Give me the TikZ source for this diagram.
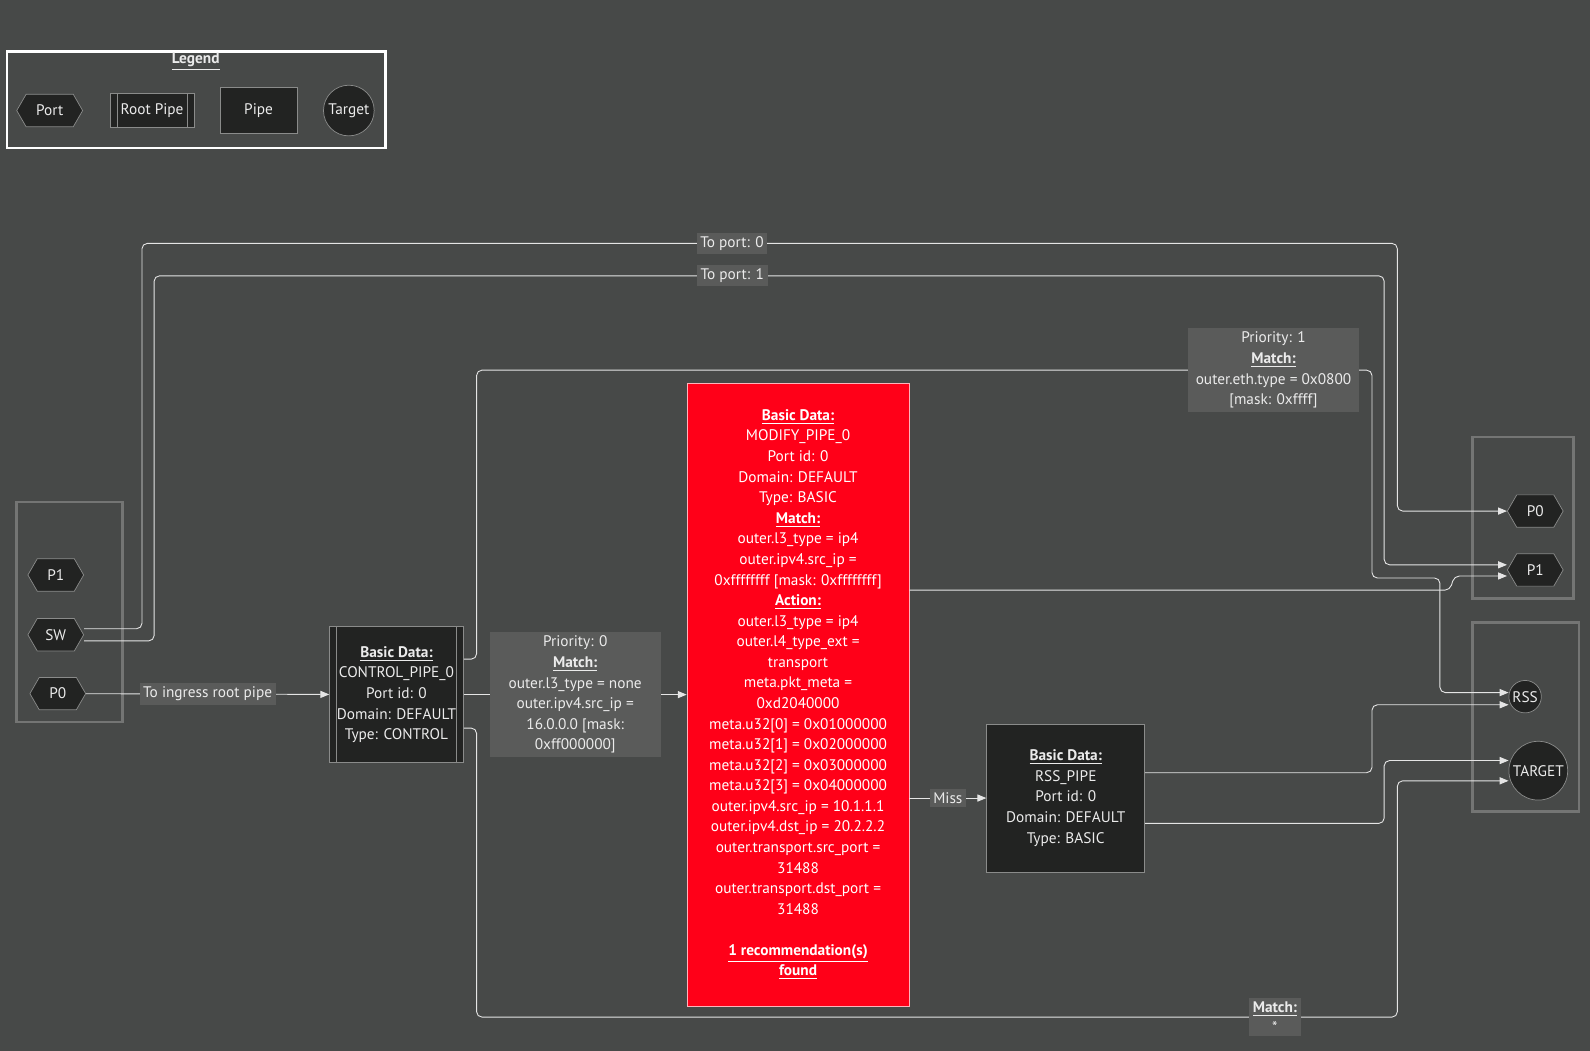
\documentclass[tikz,border=0pt]{standalone}
\usepackage{fontspec}
\setmainfont{PT Sans}
\usetikzlibrary{shapes.symbols,arrows.meta}
\definecolor{bg}{HTML}{474948}
\definecolor{nodefill}{HTML}{222322}
\definecolor{lblfill}{HTML}{5A5B5A}
\definecolor{boxline}{HTML}{8A8B8A}
\definecolor{alarm}{HTML}{FF0018}
\newcommand{\hd}[1]{\underline{\textbf{#1}}}

\begin{document}
\begin{tikzpicture}[
  x=0.02cm,y=-0.02cm,
  font=\fontsize{8.6}{11.55}\selectfont,
  every node/.style={align=center,text=white!92!black},
  port/.style={draw=boxline,fill=nodefill,signal,signal to=west and east,signal pointer angle=120,minimum width=1.1cm,minimum height=0.64cm,inner sep=1pt},
  pipe/.style={draw=boxline,fill=nodefill,rectangle},
  rootpipe/.style={pipe,path picture={
      \draw[boxline] ([xshift=4pt]path picture bounding box.north west) -- ([xshift=4pt]path picture bounding box.south west);
      \draw[boxline] ([xshift=-4pt]path picture bounding box.north east) -- ([xshift=-4pt]path picture bounding box.south east);}},
  target/.style={draw=boxline,fill=nodefill,circle,inner sep=1pt},
  group/.style={draw=gray!80!bg,line width=1.5pt},
  lbl/.style={fill=lblfill,inner sep=2pt,sharp corners},
  to/.style={-{Triangle[length=5pt,width=4pt]},draw=white!90!black,rounded corners=3pt,line width=0.5pt}]

  % background
  \fill[bg] (0,0) rectangle (1568,1036);

  % legend
  \draw[white,line width=1.5pt] (7,51) rectangle (380,146);
  \node (legend) at (193,61) {\hd{Legend}};
  \node[port,minimum width=1.3cm] (lg_port) at (49,109) {Port};
  \node[rootpipe,minimum width=1.66cm,minimum height=0.66cm] (lg_root) at (150,109) {Root Pipe};
  \node[pipe,minimum width=1.52cm,minimum height=0.9cm] (lg_pipe) at (255,109) {Pipe};
  \node[target,minimum size=1cm] (lg_target) at (344,109) {Target};

  % port groups
  \draw[group] (16,495) rectangle (121,712);
  \draw[group] (1452,431) rectangle (1552,590);
  \draw[group] (1452,614) rectangle (1557,800);

  \node[port] (in_p1) at (55,567) {P1};
  \node[port] (in_sw) at (55,626) {SW};
  \node[port] (in_p0) at (57,684) {P0};
  \node[port] (out_p0) at (1514,504) {P0};
  \node[port] (out_p1) at (1514,562) {P1};
  \node[target,minimum size=0.64cm] (rss) at (1504,687) {RSS};
  \node[target,minimum size=1.16cm] (tgt) at (1517,760) {TARGET};

  % pipes
  \node[rootpipe,minimum width=2.64cm,minimum height=2.68cm] (control) at (391,685)
    {\hd{Basic Data:}\\CONTROL\_PIPE\_0\\Port id: 0\\Domain: DEFAULT\\Type: CONTROL};
  \node[pipe,fill=alarm,draw=white!70!alarm,minimum width=4.38cm,minimum height=12.28cm,text=white] (modify) at (787,685)
    {\hd{Basic Data:}\\MODIFY\_PIPE\_0\\Port id: 0\\Domain: DEFAULT\\Type: BASIC\\
     \hd{Match:}\\outer.l3\_type = ip4\\outer.ipv4.src\_ip =\\0xffffffff {[mask: 0xffffffff]}\\
     \hd{Action:}\\outer.l3\_type = ip4\\outer.l4\_type\_ext =\\transport\\meta.pkt\_meta =\\0xd2040000\\
     meta.u32{[0]} = 0x01000000\\meta.u32{[1]} = 0x02000000\\meta.u32{[2]} = 0x03000000\\meta.u32{[3]} = 0x04000000\\
     outer.ipv4.src\_ip = 10.1.1.1\\outer.ipv4.dst\_ip = 20.2.2.2\\outer.transport.src\_port =\\31488\\
     outer.transport.dst\_port =\\31488\\[11.55pt]\hd{1 recommendation(s)}\\\hd{found}};
  \node[pipe,minimum width=3.12cm,minimum height=2.92cm] (rss_pipe) at (1051,787)
    {\hd{Basic Data:}\\RSS\_PIPE\\Port id: 0\\Domain: DEFAULT\\Type: BASIC};

  % connectors
  \draw[to] (in_p0) -- node[lbl] {To ingress root pipe} (control);
  \draw[to] (in_sw.east|-0,620) -- (140,620) -- (140,240)
    -- node[lbl,pos=0.47] {To port: 0} (1378,240) -- (1378,504) -- (out_p0);
  \draw[to] (in_sw.east|-0,632) -- (152,632) -- (152,272)
    -- node[lbl,pos=0.47] {To port: 1} (1365,272) -- (1365,557) -- (out_p1.west|-0,557);
  \draw[to] (control.east) -- node[lbl,minimum width=3.38cm,minimum height=2.42cm] {Priority: 0\\\hd{Match:}\\outer.l3\_type = none\\outer.ipv4.src\_ip =\\16.0.0.0 {[mask:}\\0xff000000{]}} (modify);
  \draw[to] (control.east|-0,650) -- (470,650) -- (470,365)
    -- node[lbl,pos=0.89,minimum width=3.38cm,minimum height=1.62cm] {Priority: 1\\\hd{Match:}\\outer.eth.type = 0x0800\\{[mask: 0xffff]}} (1353,365)
    -- (1353,570) -- (1420,570) -- (1420,683) -- (rss.west|-0,683);
  \draw[to] (modify.east|-0,582) -- (1430,582) -- (1434,568) -- (out_p1.west|-0,568);
  \draw[to] (modify.east|-0,787) -- node[lbl] {Miss} (rss_pipe);
  \draw[to] (rss_pipe.east|-0,762) -- (1353,762) -- (1353,695) -- (rss.west|-0,695);
  \draw[to] (rss_pipe.east|-0,812) -- (1365,812) -- (1365,750) -- (tgt.west|-0,750);
  \draw[to] (control.east|-0,718) -- (470,718) -- (470,1003)
    -- node[lbl,pos=0.867] {\hd{Match:}\\*} (1378,1003) -- (1378,770) -- (tgt.west|-0,770);
\end{tikzpicture}
\end{document}
